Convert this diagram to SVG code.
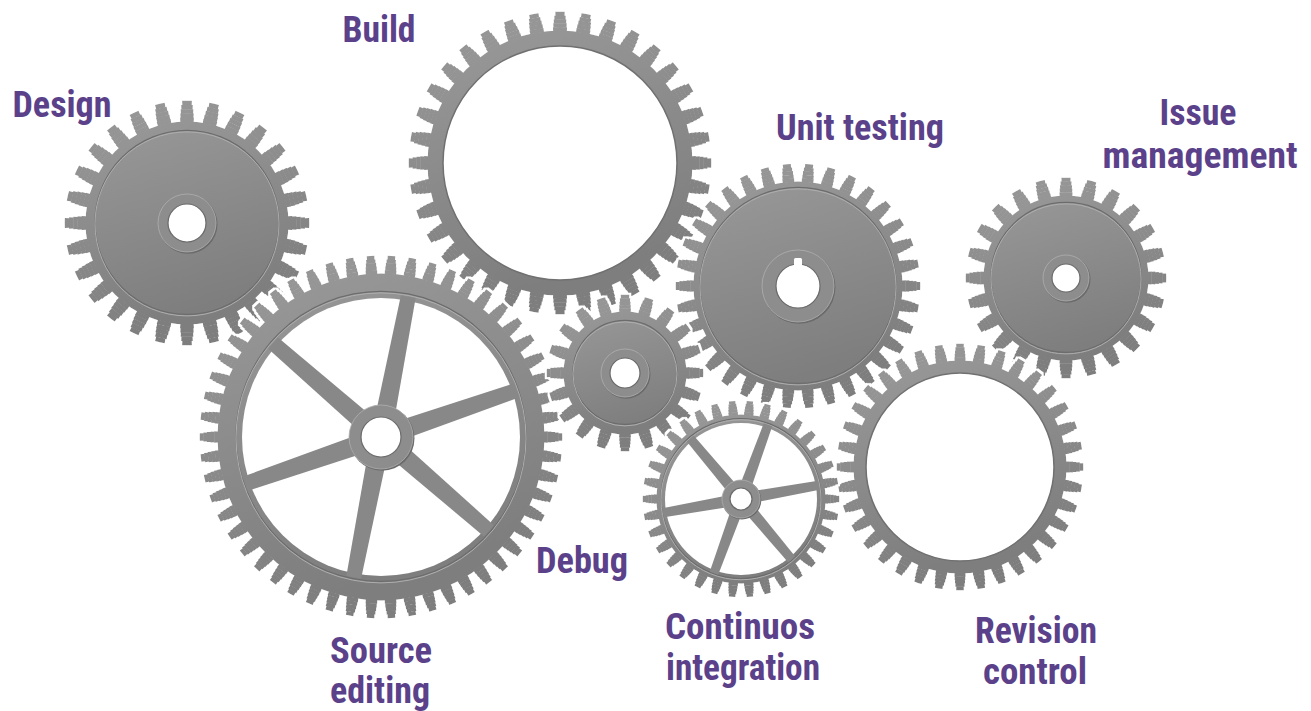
<svg xmlns="http://www.w3.org/2000/svg" xmlns:xlink="http://www.w3.org/1999/xlink" width="1311" height="711" viewBox="0 0 1311 711">
<defs>
<linearGradient id="gm" x1="0" y1="0" x2="0.3" y2="1">
<stop offset="0" stop-color="#999999"/>
<stop offset="1" stop-color="#7e7e7e"/>
</linearGradient>
<filter id="halo" x="-10%" y="-10%" width="120%" height="120%">
<feMorphology in="SourceAlpha" operator="dilate" radius="1.6" result="d"/>
<feFlood flood-color="#ffffff"/>
<feComposite in2="d" operator="in" result="w"/>
<feGaussianBlur in="SourceGraphic" stdDeviation="0.5" result="s"/>
<feMerge><feMergeNode in="w"/><feMergeNode in="s"/></feMerge>
</filter>
<polygon id="spokeA" points="0,-10 143,-7.5 143,7.5 0,10"/>
<polygon id="spokeB" points="0,-6 79,-4.5 79,4.5 0,6"/>
</defs>
<style>
.body{fill:url(#gm)}
.t{fill:none;stroke:url(#gm)}
.r0{stroke-dasharray:0.6 0.4;stroke-dashoffset:0.3}
.r1{stroke-dasharray:0.56 0.44;stroke-dashoffset:0.28}
.r2{stroke-dasharray:0.51 0.49;stroke-dashoffset:0.255}
.r3{stroke-dasharray:0.45 0.55;stroke-dashoffset:0.225}
.r4{stroke-dasharray:0.36 0.64;stroke-dashoffset:0.18}
.gd{fill:none;stroke:#6c6c6c;stroke-width:1.2}
.gl{fill:none;stroke:#aeaeae;stroke-width:1}
.hole{fill:#ffffff;stroke:#6a6a6a;stroke-width:1.2}
.win{fill:#ffffff}
.wed{fill:#ffffff;stroke:#707070;stroke-width:1.5}
.hubs{fill:#6a6a6a}
.hub{fill:#8d8d8d;stroke:#b0b0b0;stroke-width:0.8}
.sp{fill:#888888}
.lbl{font-family:"Liberation Sans Narrow","Roboto Condensed","Liberation Sans",Roboto,sans-serif;font-weight:bold;font-size:36px;fill:#5b418a;text-anchor:middle}
</style>
<rect width="1311" height="711" fill="#ffffff"/>

<g id="gear-build" filter="url(#halo)" transform="translate(560,163)">
<circle class="body" r="132.5"/>
<circle class="t r0" r="133.9" stroke-width="4.3" pathLength="36"/>
<circle class="t r1" r="137.7" stroke-width="4.3" pathLength="36"/>
<circle class="t r2" r="141.5" stroke-width="4.3" pathLength="36"/>
<circle class="t r3" r="145.3" stroke-width="4.3" pathLength="36"/>
<circle class="t r4" r="149.1" stroke-width="4.3" pathLength="36"/>
<circle class="wed" r="117"/>
</g>

<g id="gear-design" filter="url(#halo)" transform="translate(187,223)">
<circle class="body" r="101.5"/>
<circle class="t r0" r="103.1" stroke-width="4.7" pathLength="28"/>
<circle class="t r1" r="107.3" stroke-width="4.7" pathLength="28"/>
<circle class="t r2" r="111.5" stroke-width="4.7" pathLength="28"/>
<circle class="t r3" r="115.7" stroke-width="4.7" pathLength="28"/>
<circle class="t r4" r="119.9" stroke-width="4.7" pathLength="28"/>
<circle class="gd" r="92" cy="-0.6"/>
<circle class="gl" r="92" cy="0.9"/>
<circle class="hubs" r="29.5" cx="1" cy="1.2"/>
<circle class="hub" r="29"/>
<circle class="hole" r="19"/>
</g>

<g id="gear-issue" filter="url(#halo)" transform="translate(1066,278)">
<circle class="body" r="82.5"/>
<circle class="t r0" r="83.8" stroke-width="4.1" pathLength="24"/>
<circle class="t r1" r="87.4" stroke-width="4.1" pathLength="24"/>
<circle class="t r2" r="91" stroke-width="4.1" pathLength="24"/>
<circle class="t r3" r="94.6" stroke-width="4.1" pathLength="24"/>
<circle class="t r4" r="98.2" stroke-width="4.1" pathLength="24"/>
<circle class="gd" r="75" cy="-0.6"/>
<circle class="gl" r="75" cy="0.9"/>
<circle class="hubs" r="23.5" cx="1" cy="1.2"/>
<circle class="hub" r="23"/>
<circle class="hole" r="14"/>
</g>

<g id="gear-unit-testing" filter="url(#halo)" transform="translate(798,286)">
<circle class="body" r="104.5"/>
<circle class="t r0" r="105.8" stroke-width="4.1" pathLength="34"/>
<circle class="t r1" r="109.4" stroke-width="4.1" pathLength="34"/>
<circle class="t r2" r="113" stroke-width="4.1" pathLength="34"/>
<circle class="t r3" r="116.6" stroke-width="4.1" pathLength="34"/>
<circle class="t r4" r="120.2" stroke-width="4.1" pathLength="34"/>
<circle class="gd" r="98" cy="-0.6"/>
<circle class="gl" r="98" cy="0.9"/>
<circle class="hubs" r="36.5" cx="1" cy="1.2"/>
<circle class="hub" r="36"/>
<circle class="hole" r="22"/>
<rect x="-4" y="-28" width="8" height="10" rx="1.5" fill="#ffffff"/>
</g>

<g id="gear-revision-control" filter="url(#halo)" transform="translate(960,467)">
<circle class="body" r="106.5"/>
<circle class="t r0" r="107.7" stroke-width="3.9" pathLength="36"/>
<circle class="t r1" r="111.1" stroke-width="3.9" pathLength="36"/>
<circle class="t r2" r="114.5" stroke-width="3.9" pathLength="36"/>
<circle class="t r3" r="117.9" stroke-width="3.9" pathLength="36"/>
<circle class="t r4" r="121.3" stroke-width="3.9" pathLength="36"/>
<circle class="wed" r="94"/>
</g>

<g id="gear-source-editing" filter="url(#halo)" transform="translate(381,437)">
<circle class="body" r="163.5"/>
<circle class="t r0" r="164.8" stroke-width="4.1" pathLength="54"/>
<circle class="t r1" r="168.4" stroke-width="4.1" pathLength="54"/>
<circle class="t r2" r="172" stroke-width="4.1" pathLength="54"/>
<circle class="t r3" r="175.6" stroke-width="4.1" pathLength="54"/>
<circle class="t r4" r="179.2" stroke-width="4.1" pathLength="54"/>
<circle class="gd" r="145" cy="-0.6"/>
<circle class="gl" r="145" cy="0.9"/>
<circle class="win" r="139"/>
<use xlink:href="#spokeA" class="sp" transform="rotate(-79)"/>
<use xlink:href="#spokeA" class="sp" transform="rotate(-19)"/>
<use xlink:href="#spokeA" class="sp" transform="rotate(41)"/>
<use xlink:href="#spokeA" class="sp" transform="rotate(101)"/>
<use xlink:href="#spokeA" class="sp" transform="rotate(161)"/>
<use xlink:href="#spokeA" class="sp" transform="rotate(221)"/>
<circle class="hubs" r="32.5" cx="1" cy="1.2"/>
<circle class="hub" r="32"/>
<circle class="hole" r="20"/>
</g>

<g id="gear-debug" filter="url(#halo)" transform="translate(625,373)">
<circle class="body" r="61.5"/>
<circle class="t r0" r="62.7" stroke-width="3.9" pathLength="20"/>
<circle class="t r1" r="66.1" stroke-width="3.9" pathLength="20"/>
<circle class="t r2" r="69.5" stroke-width="3.9" pathLength="20"/>
<circle class="t r3" r="72.9" stroke-width="3.9" pathLength="20"/>
<circle class="t r4" r="76.3" stroke-width="3.9" pathLength="20"/>
<circle class="gd" r="52" cy="-0.6"/>
<circle class="gl" r="52" cy="0.9"/>
<circle class="hubs" r="24.5" cx="1" cy="1.2"/>
<circle class="hub" r="24"/>
<circle class="hole" r="15"/>
</g>

<g id="gear-continuous-integration" filter="url(#halo)" transform="translate(741,499)">
<circle class="body" r="84.5"/>
<circle class="t r0" r="85.4" stroke-width="3.3" pathLength="34"/>
<circle class="t r1" r="88.2" stroke-width="3.3" pathLength="34"/>
<circle class="t r2" r="91" stroke-width="3.3" pathLength="34"/>
<circle class="t r3" r="93.8" stroke-width="3.3" pathLength="34"/>
<circle class="t r4" r="96.6" stroke-width="3.3" pathLength="34"/>
<circle class="gd" r="80" cy="-0.5"/>
<circle class="gl" r="80" cy="0.8"/>
<circle class="win" r="76"/>
<use xlink:href="#spokeB" class="sp" transform="rotate(-70)"/>
<use xlink:href="#spokeB" class="sp" transform="rotate(-10)"/>
<use xlink:href="#spokeB" class="sp" transform="rotate(50)"/>
<use xlink:href="#spokeB" class="sp" transform="rotate(110)"/>
<use xlink:href="#spokeB" class="sp" transform="rotate(170)"/>
<use xlink:href="#spokeB" class="sp" transform="rotate(230)"/>
<circle class="hubs" r="19.5" cx="0.8" cy="1"/>
<circle class="hub" r="19"/>
<circle class="hole" r="11"/>
</g>

<g id="labels">
<text class="lbl" x="62" y="117" textLength="99" lengthAdjust="spacingAndGlyphs">Design</text>
<text class="lbl" x="379" y="42" textLength="73" lengthAdjust="spacingAndGlyphs">Build</text>
<text class="lbl" x="860" y="140" textLength="168" lengthAdjust="spacingAndGlyphs">Unit testing</text>
<text class="lbl" x="1198" y="125" textLength="77" lengthAdjust="spacingAndGlyphs">Issue</text>
<text class="lbl" x="1200" y="168" textLength="195" lengthAdjust="spacingAndGlyphs">management</text>
<text class="lbl" x="582" y="573" textLength="92" lengthAdjust="spacingAndGlyphs">Debug</text>
<text class="lbl" x="381" y="663" textLength="102" lengthAdjust="spacingAndGlyphs">Source</text>
<text class="lbl" x="380" y="703" textLength="100" lengthAdjust="spacingAndGlyphs">editing</text>
<text class="lbl" x="740" y="639" textLength="150" lengthAdjust="spacingAndGlyphs">Continuos</text>
<text class="lbl" x="743" y="680" textLength="154" lengthAdjust="spacingAndGlyphs">integration</text>
<text class="lbl" x="1036" y="643" textLength="122" lengthAdjust="spacingAndGlyphs">Revision</text>
<text class="lbl" x="1035" y="684" textLength="104" lengthAdjust="spacingAndGlyphs">control</text>
</g>
</svg>
